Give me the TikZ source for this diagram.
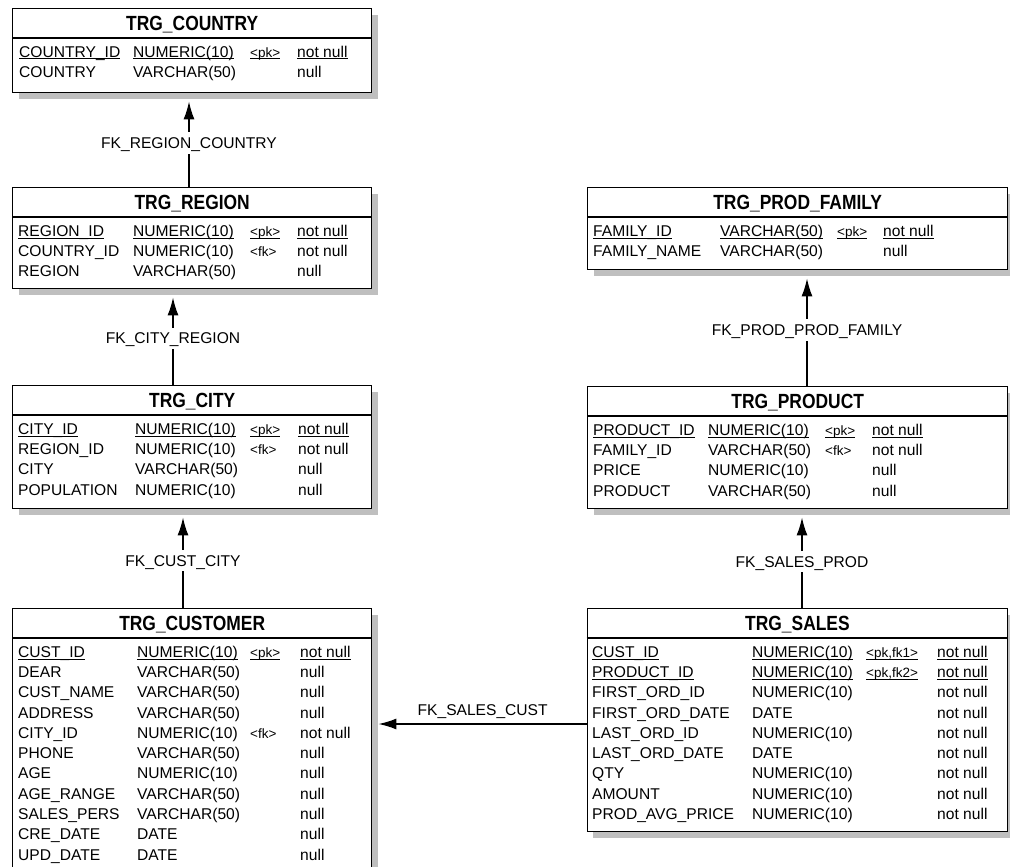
\documentclass[tikz,border=0pt]{standalone}
\usepackage{fontspec}
\setmainfont{Liberation Sans}
\newfontfamily\titlefont{Liberation Sans}[FakeStretch=0.85]
\usetikzlibrary{arrows.meta,shadows}
\newcounter{rc}
\newcommand\ulx[1]{\setbox0\hbox{#1}\rlap{\rule[-2.4pt]{\wd0}{1pt}}\box0}
\newcommand\noul[1]{#1}
\newcommand\colsat[4]{\def\cA{#1}\def\cB{#2}\def\cC{#3}\def\cD{#4}}
\newcommand\errow[6]{%
  \stepcounter{rc}%
  \node[cell] (r\arabic{rc}a) at (\cA,#1+5.6) {#2{#3}};
  \node[cell] (r\arabic{rc}b) at (\cB,#1+5.6) {#2{#4}};
  \node[cell,keycell] (r\arabic{rc}c) at (\cC,#1+5.6) {#2{#5}};
  \node[cell] (r\arabic{rc}d) at (\cD,#1+5.6) {#2{#6}};
}
\tikzset{
  cell/.style={anchor=base west, inner sep=0pt, font=\fontsize{15.6}{18}\selectfont},
  keycell/.style={font=\fontsize{13.5}{16}\selectfont},
  tbl/.style={draw, line width=1.4pt, fill=white, anchor=north west, inner sep=0pt,
    drop shadow={shadow xshift=6pt, shadow yshift=-6pt, fill=black!25, opacity=1}},
  tbltitle/.style={font=\titlefont\bfseries\fontsize{20.5}{24}\selectfont, text height=14.7pt, text depth=0pt, inner sep=0pt},
  headsep/.style={line width=1.4pt},
  fk/.style={line width=1.5pt, -{Latex[length=18pt,width=11pt]}, shorten >=8pt},
  fklabel/.style={fill=white, font=\fontsize{15.6}{18}\selectfont, text height=11.2pt, text depth=0pt, inner xsep=3pt, inner ysep=5pt},
  fktext/.style={font=\fontsize{15.6}{18}\selectfont, inner sep=0pt, anchor=base}
}
\begin{document}
\begin{tikzpicture}[x=1pt,y=-1pt]
\useasboundingbox (0,0) rectangle (1010,867);
\clip (0,0) rectangle (1010,867);
\fill[white] (0,0) rectangle (1010,867);

% ---------- tables ----------
\node[tbl, minimum width=359pt, minimum height=84pt] (country) at (12,8) {};
\node[tbl, minimum width=359pt, minimum height=101pt] (region) at (12,187) {};
\node[tbl, minimum width=359pt, minimum height=123pt] (city) at (12,385) {};
\node[tbl, minimum width=359pt, minimum height=280pt] (customer) at (12,608) {};
\node[tbl, minimum width=420pt, minimum height=82pt] (prodfam) at (587,187) {};
\node[tbl, minimum width=420pt, minimum height=122pt] (product) at (587,386) {};
\node[tbl, minimum width=420.5pt, minimum height=223pt] (sales) at (586.5,608) {};

\foreach \t/\n in {country/TRG\_COUNTRY, region/TRG\_REGION, city/TRG\_CITY,
  customer/TRG\_CUSTOMER, prodfam/TRG\_PROD\_FAMILY, product/TRG\_PRODUCT, sales/TRG\_SALES}{
  \node[tbltitle] (\t T) at ([yshift=-15.5pt]\t.north) {\n};
  \draw[headsep] ([yshift=-30pt]\t.north west) -- ([yshift=-30pt]\t.north east);
}

% ---------- rows ----------
\colsat{19}{133}{250}{297}
\errow{51.5}{\ulx}{COUNTRY\_ID}{NUMERIC(10)}{<pk>}{not null}
\errow{71.8}{\noul}{COUNTRY}{VARCHAR(50)}{}{null}

\colsat{18}{133}{250}{297}
\errow{230.5}{\ulx}{REGION\_ID}{NUMERIC(10)}{<pk>}{not null}
\errow{250.8}{\noul}{COUNTRY\_ID}{NUMERIC(10)}{<fk>}{not null}
\errow{271.1}{\noul}{REGION}{VARCHAR(50)}{}{null}

\colsat{18}{135}{250}{298}
\errow{428.5}{\ulx}{CITY\_ID}{NUMERIC(10)}{<pk>}{not null}
\errow{448.8}{\noul}{REGION\_ID}{NUMERIC(10)}{<fk>}{not null}
\errow{469.1}{\noul}{CITY}{VARCHAR(50)}{}{null}
\errow{489.4}{\noul}{POPULATION}{NUMERIC(10)}{}{null}

\colsat{18}{137}{250}{300}
\errow{651.5}{\ulx}{CUST\_ID}{NUMERIC(10)}{<pk>}{not null}
\errow{671.8}{\noul}{DEAR}{VARCHAR(50)}{}{null}
\errow{692.1}{\noul}{CUST\_NAME}{VARCHAR(50)}{}{null}
\errow{712.4}{\noul}{ADDRESS}{VARCHAR(50)}{}{null}
\errow{732.7}{\noul}{CITY\_ID}{NUMERIC(10)}{<fk>}{not null}
\errow{753.0}{\noul}{PHONE}{VARCHAR(50)}{}{null}
\errow{773.3}{\noul}{AGE}{NUMERIC(10)}{}{null}
\errow{793.6}{\noul}{AGE\_RANGE}{VARCHAR(50)}{}{null}
\errow{813.9}{\noul}{SALES\_PERS}{VARCHAR(50)}{}{null}
\errow{834.2}{\noul}{CRE\_DATE}{DATE}{}{null}
\errow{854.5}{\noul}{UPD\_DATE}{DATE}{}{null}

\colsat{593}{720}{837}{883}
\errow{230.5}{\ulx}{FAMILY\_ID}{VARCHAR(50)}{<pk>}{not null}
\errow{250.8}{\noul}{FAMILY\_NAME}{VARCHAR(50)}{}{null}

\colsat{593}{708}{825}{872}
\errow{429.5}{\ulx}{PRODUCT\_ID}{NUMERIC(10)}{<pk>}{not null}
\errow{449.8}{\noul}{FAMILY\_ID}{VARCHAR(50)}{<fk>}{not null}
\errow{470.1}{\noul}{PRICE}{NUMERIC(10)}{}{null}
\errow{490.4}{\noul}{PRODUCT}{VARCHAR(50)}{}{null}

\colsat{592}{752}{866}{937}
\errow{651.5}{\ulx}{CUST\_ID}{NUMERIC(10)}{<pk,fk1>}{not null}
\errow{671.8}{\ulx}{PRODUCT\_ID}{NUMERIC(10)}{<pk,fk2>}{not null}
\errow{692.1}{\noul}{FIRST\_ORD\_ID}{NUMERIC(10)}{}{not null}
\errow{712.4}{\noul}{FIRST\_ORD\_DATE}{DATE}{}{not null}
\errow{732.7}{\noul}{LAST\_ORD\_ID}{NUMERIC(10)}{}{not null}
\errow{753.0}{\noul}{LAST\_ORD\_DATE}{DATE}{}{not null}
\errow{773.3}{\noul}{QTY}{NUMERIC(10)}{}{not null}
\errow{793.6}{\noul}{AMOUNT}{NUMERIC(10)}{}{not null}
\errow{813.9}{\noul}{PROD\_AVG\_PRICE}{NUMERIC(10)}{}{not null}

% ---------- connectors ----------
\coordinate (x1) at (189,0);
\coordinate (x2) at (173,0);
\coordinate (x3) at (183,0);
\coordinate (x4) at (807,0);
\coordinate (x5) at (802,0);
\coordinate (y1) at (0,724);

\draw[fk] (region.north -| x1) -- node[fklabel,pos=0.47] (l1) {FK\_REGION\_COUNTRY} (country.south -| x1);
\draw[fk] (city.north -| x2) -- node[fklabel,pos=0.49] (l2) {FK\_CITY\_REGION} (region.south -| x2);
\draw[fk] (customer.north -| x3) -- node[fklabel,pos=0.48] (l3) {FK\_CUST\_CITY} (city.south -| x3);
\draw[fk] (product.north -| x4) -- node[fklabel,pos=0.485] (l4) {FK\_PROD\_PROD\_FAMILY} (prodfam.south -| x4);
\draw[fk] (sales.north -| x5) -- node[fklabel,pos=0.47] (l5) {FK\_SALES\_PROD} (product.south -| x5);
\draw[fk, shorten >=6pt] (sales.west |- y1) -- node[fktext,pos=0.485,yshift=8.5pt] (l6) {FK\_SALES\_CUST} (customer.east |- y1);
\end{tikzpicture}
\end{document}
